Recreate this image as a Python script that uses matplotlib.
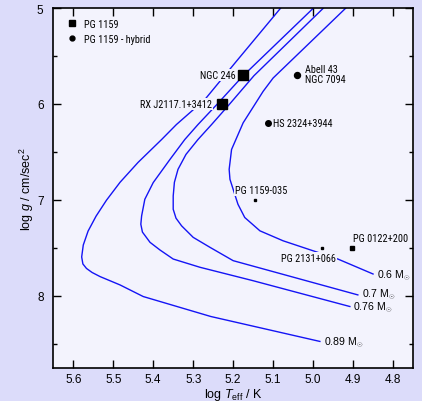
import os
import matplotlib
matplotlib.use('Agg')
import matplotlib.pyplot as plt
from matplotlib.lines import Line2D
from matplotlib.ticker import MultipleLocator
from matplotlib import font_manager as fm

# ---------------- data ----------------
# evolutionary tracks (log Teff, log g)
T_060 = [4.918, 5.100, 5.125, 5.146, 5.175, 5.204, 5.210, 5.208, 5.200, 5.188, 5.171, 5.133, 5.075, 5.000, 4.938, 4.850]
g_060 = [5.000, 5.730, 5.869, 6.007, 6.197, 6.475, 6.682, 6.786, 6.890, 7.046, 7.184, 7.323, 7.427, 7.531, 7.617, 7.773]

T_070 = [4.974, 5.148, 5.210, 5.254, 5.288, 5.318, 5.338, 5.347, 5.350, 5.350, 5.343, 5.329, 5.300, 5.258, 5.200, 4.888]
g_070 = [5.000, 5.706, 6.007, 6.215, 6.371, 6.526, 6.682, 6.817, 6.960, 7.098, 7.191, 7.271, 7.391, 7.495, 7.634, 7.991]

T_076 = [4.999, 5.175, 5.241, 5.288, 5.321, 5.358, 5.400, 5.421, 5.429, 5.431, 5.427, 5.408, 5.383, 5.350, 5.283, 5.151, 4.908]
g_076 = [5.000, 5.706, 6.007, 6.215, 6.371, 6.578, 6.820, 6.994, 7.167, 7.254, 7.336, 7.443, 7.523, 7.617, 7.703, 7.842, 8.112]

T_089 = [5.081, 5.193, 5.271, 5.342, 5.379, 5.438, 5.483, 5.517, 5.543, 5.563, 5.575, 5.579, 5.576, 5.567, 5.553, 5.533, 5.483, 5.425, 5.256, 4.983]
g_089 = [5.000, 5.561, 5.955, 6.215, 6.371, 6.610, 6.817, 7.004, 7.170, 7.326, 7.471, 7.595, 7.668, 7.715, 7.757, 7.800, 7.887, 8.008, 8.216, 8.476]

masses = ['0.6', '0.7', '0.76', '0.89']
tracks_T = [T_060, T_070, T_076, T_089]
tracks_g = [g_060, g_070, g_076, g_089]

# PG 1159 stars
pg_names = ['NGC 246', 'RX J2117.1+3412', 'PG 1159-035', 'PG 2131+066', 'PG 0122+200']
pg_T = [5.176, 5.229, 5.146, 4.977, 4.903]
pg_g = [5.70, 6.00, 7.00, 7.50, 7.50]

# PG 1159 hybrids
hyb_names = ['Abell 43\nNGC 7094', 'HS 2324+3944']
hyb_T = [5.041, 5.114]
hyb_g = [5.70, 6.20]

legend_labels = ['PG 1159', 'PG 1159 - hybrid']
x_label = r'log $T_{\rm eff}$ / K'
y_label = r'log $g$ / cm/sec$^2$'

# ---------------- style ----------------
FIG_BG = '#dcdcfa'
AX_BG = '#f3f3fd'
LINE_C = '#1414f5'
plt.rcParams['font.family'] = ['Liberation Sans', 'DejaVu Sans']
plt.rcParams['mathtext.fontset'] = 'custom'
plt.rcParams['mathtext.rm'] = 'Liberation Sans'
plt.rcParams['mathtext.it'] = 'Liberation Sans:italic'
plt.rcParams['mathtext.bf'] = 'Liberation Sans:bold'


def find_narrow():
    files = [f.fname for f in fm.fontManager.ttflist]
    try:
        files += fm.findSystemFonts()
    except Exception:
        pass
    prefs = ['liberationsansnarrow-regular', 'arialnarrow', 'robotocondensed-regular',
             'notosans-condensed.', 'notosans-condensedregular',
             'opensans_condensed-regular', 'opensans-condensedregular',
             'dejavusanscondensed.']
    for p in prefs:
        for f in files:
            if p in os.path.basename(f).lower():
                return f
    bad = ['bold', 'italic', 'oblique', 'semi', 'extra', 'ultra', 'light', 'black',
           'thin', 'medium', 'mono', 'serif', 'cjk']
    for f in files:
        b = os.path.basename(f).lower()
        if ('narrow' in b or 'condensed' in b) and not any(x in b for x in bad):
            return f
    return None


_nf = find_narrow()
if _nf:
    NARROW = fm.FontProperties(fname=_nf, size=8)
else:
    NARROW = fm.FontProperties(family='Liberation Sans', size=8)

fig = plt.figure(figsize=(4.22, 4.02), dpi=100, facecolor=FIG_BG)
ax = fig.add_axes([0.1263, 0.0828, 0.8524, 0.8948])
ax.set_facecolor(AX_BG)

# scale narrow font so that label widths match the reference lettering
_r = fig.canvas.get_renderer()
_t = fig.text(0, 0, 'PG 1159-035', fontproperties=NARROW)
_w = _t.get_window_extent(_r).width
_t.remove()
if _w > 54:
    NARROW.set_size(max(6.3, 8 * 52.0 / _w))

pg_style = {
    'NGC 246': dict(ms=7.5, off=(-5, 0), ha='right'),
    'RX J2117.1+3412': dict(ms=7.2, off=(-7, 0), ha='right'),
    'PG 1159-035': dict(ms=1.5, off=(-14.4, 7.2), ha='left'),
    'PG 2131+066': dict(ms=2.0, off=(9.6, -7.2), ha='right'),
    'PG 0122+200': dict(ms=3.0, off=(0.5, 7.2), ha='left'),
}
hyb_style = {
    'Abell 43\nNGC 7094': dict(ms=4.3, off=(6, 1)),
    'HS 2324+3944': dict(ms=4.0, off=(4, 0)),
}
mass_off = {'0.6': (3, -0.8), '0.7': (3, 0.6), '0.76': (2.5, -0.6), '0.89': (3, 0)}
box = dict(boxstyle='square,pad=0.12', fc=AX_BG, ec='none')

for m, T, g in zip(masses, tracks_T, tracks_g):
    ax.plot(T, g, color=LINE_C, lw=1.0, zorder=2, solid_joinstyle='round')
    ax.annotate(m + r' M$_{\odot}$', xy=(T[-1], g[-1]), xytext=mass_off[m],
                textcoords='offset points', ha='left', va='center',
                fontsize=7.6, zorder=3)

for name, T, g in zip(pg_names, pg_T, pg_g):
    st = pg_style[name]
    ax.plot([T], [g], marker='s', ms=st['ms'], color='black', ls='none', zorder=5)
    ax.annotate(name, xy=(T, g), xytext=st['off'], textcoords='offset points',
                ha=st['ha'], va='center', fontproperties=NARROW,
                bbox=box, zorder=4)

for name, T, g in zip(hyb_names, hyb_T, hyb_g):
    st = hyb_style[name]
    ax.plot([T], [g], marker='o', ms=st['ms'], color='black', ls='none', zorder=5)
    ax.annotate(name, xy=(T, g), xytext=st['off'], textcoords='offset points',
                ha='left', va='center', fontproperties=NARROW,
                linespacing=1.05, bbox=box, zorder=4)

handles = [Line2D([], [], marker='s', ms=4.5, color='black', ls='none'),
           Line2D([], [], marker='o', ms=3.5, color='black', ls='none')]
leg = ax.legend(handles, legend_labels, loc='upper left', frameon=False,
                handlelength=1.6, handletextpad=0.35, labelspacing=0.5,
                borderaxespad=0.65, borderpad=0.4, prop=NARROW)

ax.set_xlim(5.65, 4.75)
ax.set_ylim(8.75, 5.0)
ax.xaxis.set_major_locator(MultipleLocator(0.1))
ax.yaxis.set_major_locator(MultipleLocator(1))
ax.yaxis.set_minor_locator(MultipleLocator(0.5))
ax.tick_params(axis='both', which='both', direction='in', top=True, right=True,
               width=1.0, labelsize=8.5)
ax.tick_params(axis='both', which='major', length=6)
ax.tick_params(axis='both', which='minor', length=3)
ax.tick_params(axis='x', pad=3.6)
ax.tick_params(axis='y', pad=7)
for s in ax.spines.values():
    s.set_linewidth(1.2)

ax.set_xlabel(x_label, fontsize=9, labelpad=1)
ax.set_ylabel(y_label, fontsize=9, labelpad=1)

fig.savefig('out.png', dpi=100, facecolor=FIG_BG)
